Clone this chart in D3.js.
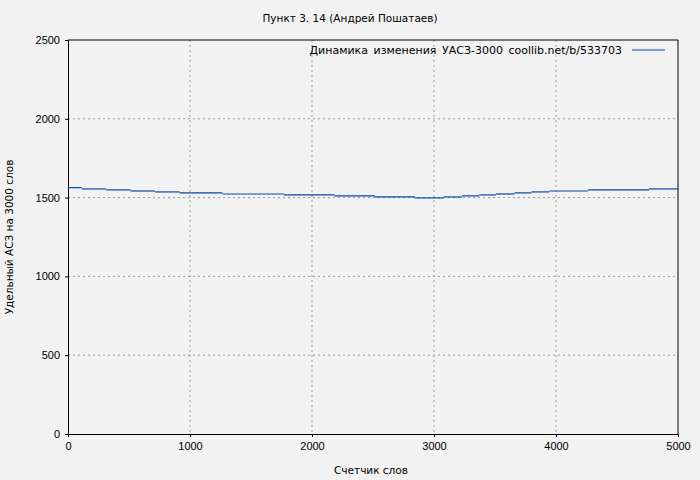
<!DOCTYPE html><html><head><meta charset="utf-8"><script src="https://cdn.jsdelivr.net/npm/d3@7"></script>
<style>body{margin:0;background:#f2f2f2}svg{font-family:"DejaVu Sans",sans-serif}</style></head><body><svg width="700" height="480"></svg><script>
const stepStarts=[0,113,314,512,714,915,1266,1770,2185,2516,2841,3078,3230,3370,3507,3659,3799,3945,4263,4763,5000];
const stepValues=[1563,1555,1549,1542,1536,1530,1523,1517,1511,1504,1498,1504,1511,1517,1523,1530,1536,1542,1549,1555,1555];
const xTicks=[0,1000,2000,3000,4000,5000];
const yTicks=[0,500,1000,1500,2000,2500];
const svg=d3.select("svg");
svg.append("rect").attr("width",700).attr("height",480).attr("fill","#f2f2f2");
const x=d3.scaleLinear().domain([0,5000]).range([68,678]);
const y=d3.scaleLinear().domain([0,2500]).range([434,40]);
const g=svg.append("g");
xTicks.slice(1,-1).forEach(t=>g.append("line").attr("x1",x(t)).attr("x2",x(t)).attr("y1",40).attr("y2",434).attr("stroke","#999").attr("stroke-dasharray","2,3"));
yTicks.slice(1,-1).forEach(t=>g.append("line").attr("x1",68).attr("x2",678).attr("y1",y(t)).attr("y2",y(t)).attr("stroke","#999").attr("stroke-dasharray","2,3"));
svg.append("g").attr("transform","translate(0,434)").call(d3.axisBottom(x).tickValues(xTicks).tickFormat(d3.format("d")).tickSize(3).tickPadding(5)).call(a=>a.select(".domain").attr("stroke","#000")).selectAll("text").attr("font-size",11).attr("fill","#000");
svg.append("g").attr("transform","translate(68,0)").call(d3.axisLeft(y).tickValues(yTicks).tickFormat(d3.format("d")).tickSize(3).tickPadding(5)).call(a=>a.select(".domain").attr("stroke","#000")).selectAll("text").attr("font-size",11).attr("fill","#000");
svg.append("line").attr("x1",678).attr("x2",678).attr("y1",40).attr("y2",434).attr("stroke","#000");
svg.append("line").attr("x1",68).attr("x2",678).attr("y1",40).attr("y2",40).attr("stroke","#000");
const segs=stepStarts.slice(0,-1).map((s,i)=>[s,stepStarts[i+1],stepValues[i]]);
svg.append("g").selectAll("line").data(segs).join("line")
 .attr("x1",d=>x(d[0])).attr("x2",d=>x(d[1])).attr("y1",d=>y(d[2])).attr("y2",d=>y(d[2]))
 .attr("stroke","#0645ad").attr("stroke-width",1.2);
svg.append("text").attr("x",350).attr("y",22).attr("text-anchor","middle").attr("font-size",10.5).text("Пункт 3. 14 (Андрей Пошатаев)");
svg.append("text").attr("x",371).attr("y",474).attr("text-anchor","middle").attr("font-size",10.5).text("Счетчик слов");
svg.append("text").attr("transform","translate(13,237) rotate(-90)").attr("text-anchor","middle").attr("font-size",10.5).text("Удельный АСЗ на 3000 слов");
svg.append("text").attr("x",622).attr("y",54).attr("text-anchor","end").attr("font-size",11).attr("word-spacing","2").text("Динамика изменения УАСЗ-3000  coollib.net/b/533703");
svg.append("line").attr("x1",632).attr("x2",665).attr("y1",50).attr("y2",50).attr("stroke","#0645ad").attr("stroke-width",1.2);
</script></body></html>
